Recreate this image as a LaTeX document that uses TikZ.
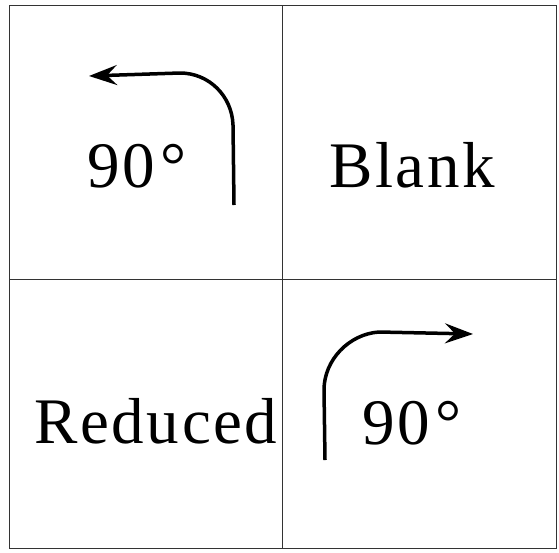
\documentclass[tikz,border=0pt]{standalone}
\usepackage{fontspec}
\setmainfont{Liberation Serif}[LetterSpace=4]
\usetikzlibrary{arrows.meta}

\begin{document}
\begin{tikzpicture}[x=1pt,y=-1pt,every node/.style={anchor=base,inner sep=0pt,font=\fontsize{65}{70}\selectfont},
  gridline/.style={draw=black!80,line width=1pt},
  turn/.style={line width=3.5pt,-{Stealth[length=28pt,width=20pt,inset=10pt]}}]
  \useasboundingbox (0,0) rectangle (559,552);
  \draw[gridline] (9,5) rectangle (556,548);
  \draw[gridline] (282,5) -- (282,548);
  \draw[gridline] (9,279) -- (556,279);
  \node (leftangle) at (137,187) {90\hspace{6pt}°};
  \node (blank) at (412,187) {Blank};
  \node (reduced) at (156,443) {Reduced};
  \node (rightangle) at (412,444) {90\hspace{6pt}°};
  \coordinate (leftfrom) at (234,205);
  \coordinate (leftto) at (89,76);
  \coordinate (rightfrom) at (325,460);
  \coordinate (rightto) at (473,334);
  \draw[turn] (leftfrom) -- (233,125) .. controls (232,96) and (209,73) .. (180,73) -- (leftto);
  \draw[turn] (rightfrom) -- (324,390) .. controls (324,360) and (349,334) .. (379,332) -- (rightto);
\end{tikzpicture}
\end{document}
